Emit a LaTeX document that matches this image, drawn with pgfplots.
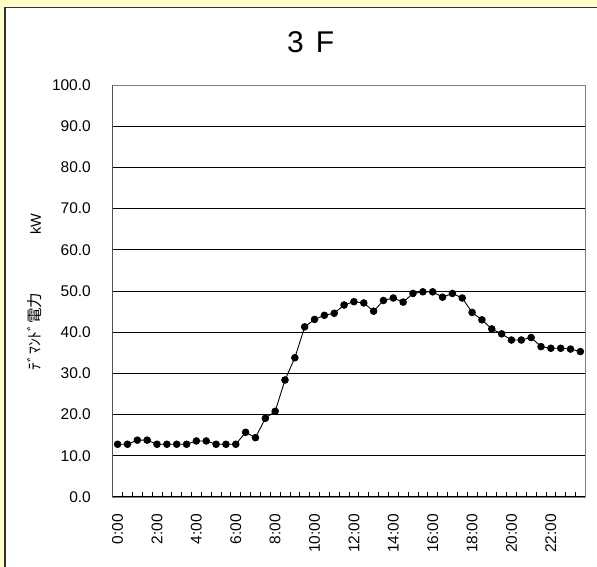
\documentclass[border=0pt]{standalone}
\usepackage{pgfplots}
\pgfplotsset{compat=1.18}
\usepackage{fontspec}
\setmainfont{Liberation Sans}
\newfontfamily\cjk{Noto Sans CJK JP}
\definecolor{panelbg}{RGB}{255,255,204}
\definecolor{framegray}{RGB}{128,128,128}
\definecolor{borderdark}{RGB}{51,51,51}

% half-hourly demand, 3rd floor (slot index, kW)
\pgfplotstableread{
slot kw
0 12.8
1 12.8
2 13.8
3 13.8
4 12.8
5 12.8
6 12.8
7 12.8
8 13.6
9 13.6
10 12.8
11 12.8
12 12.8
13 15.7
14 14.4
15 19.1
16 20.8
17 28.4
18 33.8
19 41.3
20 43.1
21 44.1
22 44.6
23 46.6
24 47.4
25 47.1
26 45.1
27 47.7
28 48.3
29 47.3
30 49.4
31 49.8
32 49.8
33 48.5
34 49.4
35 48.3
36 44.8
37 43.0
38 40.8
39 39.6
40 38.1
41 38.1
42 38.7
43 36.5
44 36.1
45 36.1
46 35.9
47 35.3
}\demand

\begin{document}
\begin{tikzpicture}[x=1pt,y=1pt]
\useasboundingbox (0,0) rectangle (597,567);
\clip (0,0) rectangle (597,567);
\fill[panelbg] (0,0) rectangle (597,567);
\filldraw[fill=white, draw=borderdark, line width=1.6pt] (4.8,-10) rectangle (620,559.5);
\node[font=\fontsize{30}{34}\selectfont] at (310.7,524.5) {3\hspace{12pt}F};
\node[rotate=90, font=\fontsize{14.5}{16}\selectfont] at (35,275)
  {{\cjk\fontsize{15.5}{17}\selectfont ﾃﾞﾏﾝﾄﾞ電力}\hspace{58pt}kW};
\begin{axis}[
  scale only axis,
  width=472.6pt, height=412pt,
  at={(112.7pt,70pt)}, anchor=south west,
  xmin=-0.5, xmax=47.5, ymin=0, ymax=100,
  axis line style={draw=framegray, line width=0.9pt},
  xtick pos=bottom, ytick pos=left,
  tick align=inside,
  xtick={0,4,...,44},
  xticklabels={0:00,2:00,4:00,6:00,8:00,10:00,12:00,14:00,16:00,18:00,20:00,22:00},
  major x tick style={draw=none},
  minor xtick={-0.5,0.5,...,47.5},
  minor tick length=4.5pt,
  minor x tick style={black, line width=0.8pt},
  ytick={0,10,...,100},
  yticklabels={0.0,10.0,20.0,30.0,40.0,50.0,60.0,70.0,80.0,90.0,100.0},
  major tick length=7pt,
  y tick style={black, line width=0.8pt},
  ymajorgrids,
  major grid style={black, line width=0.8pt},
  /pgf/number format/assume math mode=true,
  xticklabel style={rotate=90, anchor=east, inner sep=0pt, font=\fontsize{15.5}{17}\selectfont},
  xticklabel shift=17pt,
  yticklabel style={anchor=east, inner sep=0pt, font=\fontsize{15.5}{17}\selectfont},
  yticklabel shift=21.7pt,
]
\addplot[black, line width=0.9pt, mark=*, mark size=3.3pt, mark options={fill=black}]
  table[x=slot, y=kw] {\demand};
\draw[framegray, line width=0.9pt] (rel axis cs:0,1) -- (rel axis cs:1,1) -- (rel axis cs:1,0);
\draw[black, line width=1pt] (rel axis cs:0,1) -- (rel axis cs:0,0) -- (rel axis cs:1,0);
\end{axis}
\end{tikzpicture}
\end{document}
